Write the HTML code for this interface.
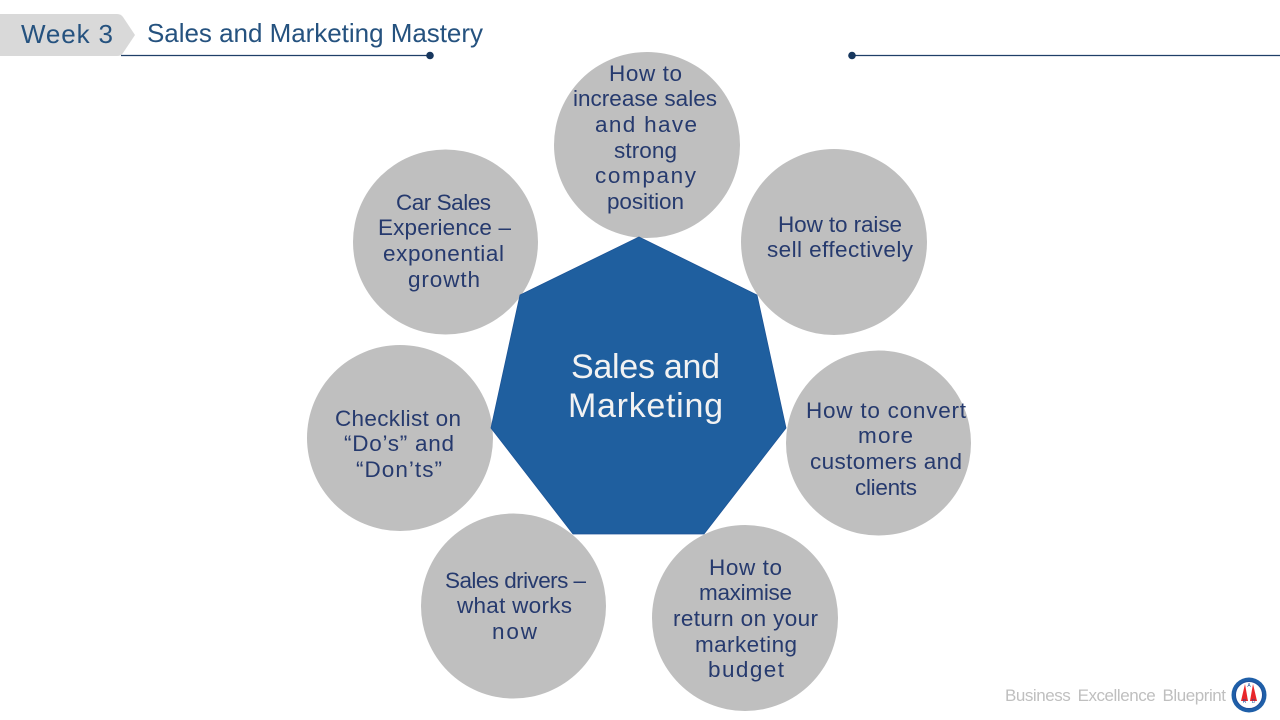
<!DOCTYPE html>
<html lang="en">
<head>
<meta charset="utf-8">
<title>Week 3 - Sales and Marketing Mastery</title>
<style>
html,body{margin:0;padding:0;background:#fff;width:1280px;height:720px;overflow:hidden}
svg{display:block}
text{font-family:"Liberation Sans",sans-serif}
.c{fill:#bfbfbf}
.t{font-size:22.5px;fill:#263a6e}
</style>
</head>
<body>
<svg width="1280" height="720" viewBox="0 0 1280 720" xmlns="http://www.w3.org/2000/svg">
<rect width="1280" height="720" fill="#fff"/>

<!-- Header -->
<path d="M0 14H117Q121 14 123 17L135 35L123 53Q121 56 117 56H0Z" fill="#d9d9d9"/>
<line x1="121" y1="55.5" x2="430" y2="55.5" stroke="#1f3f68" stroke-width="1.3"/>
<circle cx="430" cy="55.5" r="3.8" fill="#17375e"/>
<line x1="852" y1="55.5" x2="1280" y2="55.5" stroke="#1f3f68" stroke-width="1.3"/>
<circle cx="852" cy="55.5" r="3.8" fill="#17375e"/>
<text x="21" y="43" font-size="26" fill="#25527f" textLength="92" lengthAdjust="spacing">Week  3</text>
<text x="147" y="42" font-size="26" fill="#25527f" textLength="336" lengthAdjust="spacing">Sales and Marketing Mastery</text>

<!-- Circles -->
<circle class="c" cx="647" cy="145" r="93"/>
<circle class="c" cx="834" cy="242" r="93"/>
<circle class="c" cx="878.500" cy="443" r="92.500"/>
<circle class="c" cx="745" cy="618" r="93"/>
<circle class="c" cx="513.500" cy="606" r="92.500"/>
<circle class="c" cx="400" cy="438" r="93"/>
<circle class="c" cx="445.500" cy="242" r="92.500"/>

<!-- Heptagon -->
<polygon points="639,237 757,295 786,428 704,534 573,534 491,428 520,295" fill="#1f5f9f" stroke="#1c5496" stroke-width="0.8"/>
<text x="571" y="378" font-size="34" fill="#f2f2f2" textLength="149" lengthAdjust="spacing">Sales and</text>
<text x="568" y="417" font-size="34" fill="#f2f2f2" textLength="155" lengthAdjust="spacing">Marketing</text>

<!-- Circle 1 -->
<text class="t" x="609" y="81" textLength="73" lengthAdjust="spacing">How to</text>
<text class="t" x="573" y="106" textLength="144" lengthAdjust="spacing">increase sales</text>
<text class="t" x="595" y="132" textLength="102" lengthAdjust="spacing">and have</text>
<text class="t" x="614" y="158" textLength="63" lengthAdjust="spacing">strong</text>
<text class="t" x="595" y="183" textLength="101" lengthAdjust="spacing">company</text>
<text class="t" x="607" y="209" textLength="77" lengthAdjust="spacing">position</text>

<!-- Circle 2 -->
<text class="t" x="778" y="232" textLength="124" lengthAdjust="spacing">How to raise</text>
<text class="t" x="767" y="257" textLength="146" lengthAdjust="spacing">sell effectively</text>

<!-- Circle 3 -->
<text class="t" x="806" y="418" textLength="160" lengthAdjust="spacing">How to convert</text>
<text class="t" x="858" y="443" textLength="55" lengthAdjust="spacing">more</text>
<text class="t" x="810" y="469" textLength="152" lengthAdjust="spacing">customers and</text>
<text class="t" x="855" y="495" textLength="62" lengthAdjust="spacing">clients</text>

<!-- Circle 4 -->
<text class="t" x="709" y="575" textLength="73" lengthAdjust="spacing">How to</text>
<text class="t" x="699" y="600" textLength="93" lengthAdjust="spacing">maximise</text>
<text class="t" x="673" y="626" textLength="145" lengthAdjust="spacing">return on your</text>
<text class="t" x="695" y="652" textLength="102" lengthAdjust="spacing">marketing</text>
<text class="t" x="708" y="677" textLength="76" lengthAdjust="spacing">budget</text>

<!-- Circle 5 -->
<text class="t" x="445" y="588" textLength="141" lengthAdjust="spacing">Sales drivers –</text>
<text class="t" x="457" y="613" textLength="115" lengthAdjust="spacing">what works</text>
<text class="t" x="492" y="639" textLength="45" lengthAdjust="spacing">now</text>

<!-- Circle 6 -->
<text class="t" x="335" y="426" textLength="126" lengthAdjust="spacing">Checklist on</text>
<text class="t" x="344" y="451" textLength="110" lengthAdjust="spacing">“Do’s” and</text>
<text class="t" x="356" y="477" textLength="86" lengthAdjust="spacing">“Don’ts”</text>

<!-- Circle 7 -->
<text class="t" x="396" y="210" textLength="95" lengthAdjust="spacing">Car Sales</text>
<text class="t" x="378" y="235" textLength="133" lengthAdjust="spacing">Experience –</text>
<text class="t" x="383" y="261" textLength="121" lengthAdjust="spacing">exponential</text>
<text class="t" x="408" y="287" textLength="72" lengthAdjust="spacing">growth</text>

<!-- Footer -->
<text x="1005" y="701" font-size="17" fill="#bfbfbf" textLength="221" lengthAdjust="spacing" word-spacing="3">Business Excellence Blueprint</text>
<circle cx="1249" cy="695" r="17.500" fill="#1f5fa8"/>
<circle cx="1249" cy="695" r="13.500" fill="#fff"/>
<polygon points="1245,684 1241,701 1248,701" fill="#e8262a"/>
<polygon points="1253,684 1250,701 1257,701" fill="#e8262a"/>
<circle cx="1249" cy="695" r="13.500" fill="none" stroke="#1f4e9a" stroke-width="1"/>
<text x="1249" y="687" font-size="5" fill="#1f4e9a" text-anchor="middle">A</text>
<text x="1244.500" y="703" font-size="5" fill="#1f4e9a" text-anchor="middle">R</text>
<text x="1253.500" y="703" font-size="5" fill="#1f4e9a" text-anchor="middle">D</text>
</svg>
</body>
</html>
